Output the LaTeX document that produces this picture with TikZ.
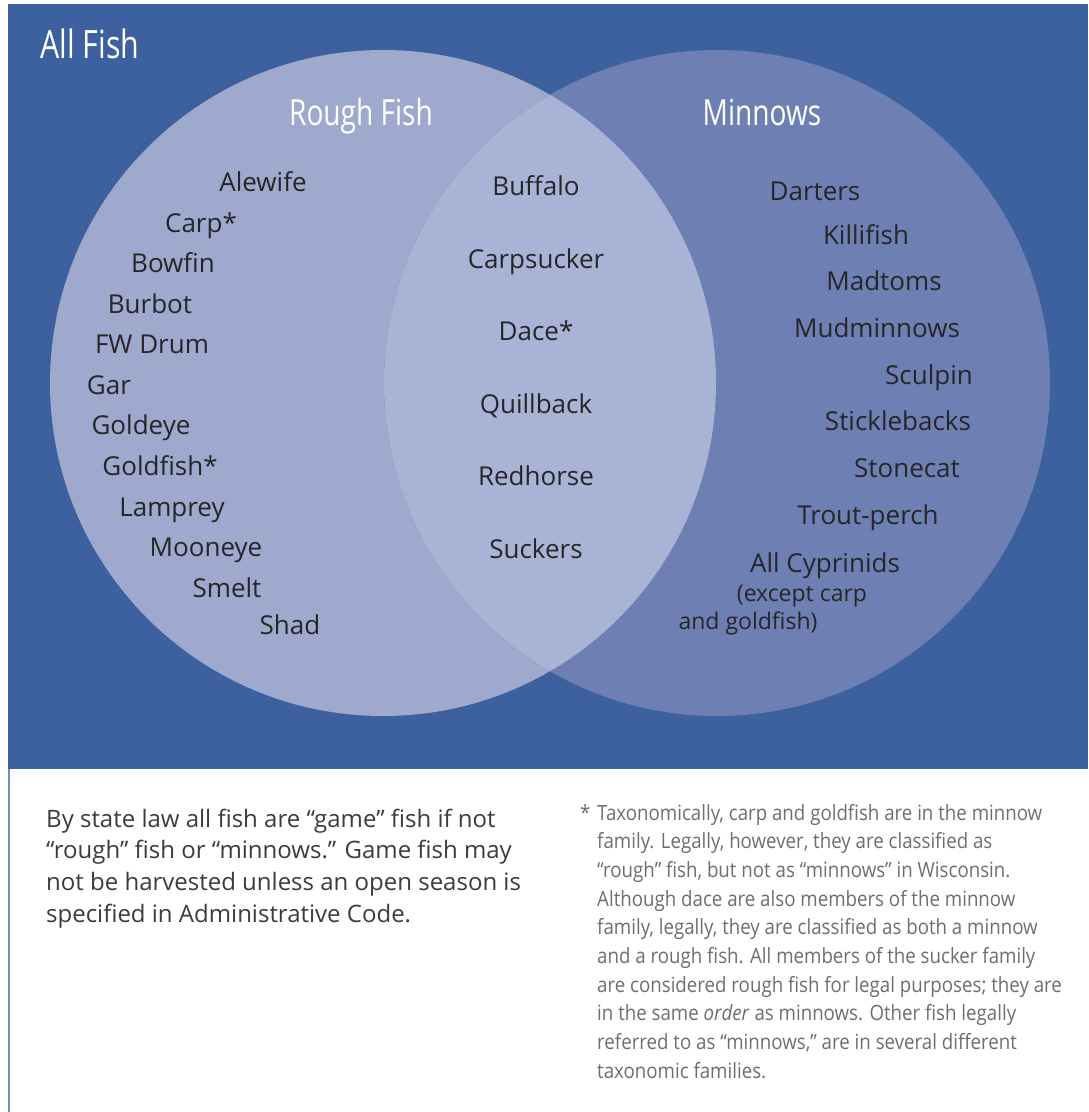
\documentclass[tikz,border=0pt]{standalone}
\usepackage{fontspec}
\setmainfont{Open Sans}
\newfontfamily\titlefont[FakeStretch=0.78]{Open Sans}
\newfontfamily\notefont[FakeStretch=0.89]{Open Sans}
\definecolor{bgblue}{RGB}{61,96,158}
\definecolor{leftc}{RGB}{158,169,205}
\definecolor{rightc}{RGB}{110,128,179}
\definecolor{midc}{RGB}{168,179,213}
\definecolor{textdark}{RGB}{38,38,40}
\definecolor{notegray}{RGB}{110,110,113}
\definecolor{edgeblue}{RGB}{120,140,195}
\tikzset{
  item/.style={font=\fontsize{26}{30}\selectfont, text=textdark, anchor=base, inner sep=0pt},
  smallitem/.style={font=\fontsize{23}{28}\selectfont, text=textdark, anchor=base, inner sep=0pt},
  title/.style={font=\titlefont\fontsize{36}{40}\selectfont, text=white, anchor=base, inner sep=0pt},
  para/.style={font=\fontsize{24}{30}\selectfont, text=textdark!90, anchor=base west, inner sep=0pt},
  note/.style={font=\notefont\fontsize{21}{26}\selectfont, text=notegray, anchor=base west, inner sep=0pt},
}
\begin{document}
\begin{tikzpicture}[x=1pt,y=-1pt]
\useasboundingbox (0,0) rectangle (1088,1112);
\fill[white] (0,0) rectangle (1088,1112);
\fill[bgblue] (8,4) rectangle (1088,769);
\draw[edgeblue, line width=1.5pt] (8.75,769) -- (8.75,1112);
% circles
\fill[leftc] (383,383) circle (333pt);
\fill[rightc] (717,383) circle (333pt);
\begin{scope}
  \clip (383,383) circle (333pt);
  \fill[midc] (717,383) circle (333pt);
\end{scope}
% titles
\node[title, anchor=base west, font=\titlefont\fontsize{39}{42}\selectfont] (allfish) at (40,58) {All Fish};
\node[title] (rough) at (361,125) {Rough Fish};
\node[title] (minnows) at (762,125) {Minnows};
% rough fish only
\node[item] (alewife) at (263,191) {Alewife};
\node[item] (carp) at (201,232) {Carp*};
\node[item] (bowfin) at (173,272) {Bowfin};
\node[item] (burbot) at (150,313) {Burbot};
\node[item] (fwdrum) at (152,353) {FW Drum};
\node[item] (gar) at (109,394) {Gar};
\node[item] (goldeye) at (141,434) {Goldeye};
\node[item] (goldfish) at (160,475) {Goldfish*};
\node[item] (lamprey) at (172,516) {Lamprey};
\node[item] (mooneye) at (206,556) {Mooneye};
\node[item] (smelt) at (227,597) {Smelt};
\node[item] (shad) at (290,634) {Shad};
% both
\node[item] (buffalo) at (536,195) {Buffalo};
\node[item] (carpsucker) at (536,268) {Carpsucker};
\node[item] (dace) at (536,340) {Dace*};
\node[item] (quillback) at (536,413) {Quillback};
\node[item] (redhorse) at (536,485) {Redhorse};
\node[item] (suckers) at (536,558) {Suckers};
% minnows only
\node[item] (darters) at (815,200) {Darters};
\node[item] (killifish) at (866,244) {Killifish};
\node[item] (madtoms) at (884,290) {Madtoms};
\node[item] (mudminnows) at (877,337) {Mudminnows};
\node[item] (sculpin) at (929,384) {Sculpin};
\node[item] (sticklebacks) at (898,430) {Sticklebacks};
\node[item] (stonecat) at (907,477) {Stonecat};
\node[item] (troutperch) at (868,524) {Trout-perch};
\node[item] (cyprinids) at (825,572) {All Cyprinids};
\node[smallitem] (except) at (802,601) {(except carp};
\node[smallitem] (andgold) at (748,629) {and goldfish)};
% bottom paragraph
\node[para] (p1) at (46,827) {By state law all fish are “game” fish if not};
\node[para] (p2) at (46,858.7) {“rough” fish or “minnows.” Game fish may};
\node[para] (p3) at (46,890.4) {not be harvested unless an open season is};
\node[para] (p4) at (46,922) {specified in Administrative Code.};
% footnote
\node[note] (ast) at (580,820) {*};
\foreach \t [count=\i] in {
  {Taxonomically, carp and goldfish are in the minnow},
  {family. Legally, however, they are classified as},
  {“rough” fish, but not as “minnows” in Wisconsin.},
  {Although dace are also members of the minnow},
  {family, legally, they are classified as both a minnow},
  {and a rough fish. All members of the sucker family},
  {are considered rough fish for legal purposes; they are},
  {in the same \textit{order} as minnows. Other fish legally},
  {referred to as “minnows,” are in several different},
  {taxonomic families.}}
  \node[note] (f\i) at (597,{820+(\i-1)*28.7}) {\t};
\end{tikzpicture}
\end{document}
